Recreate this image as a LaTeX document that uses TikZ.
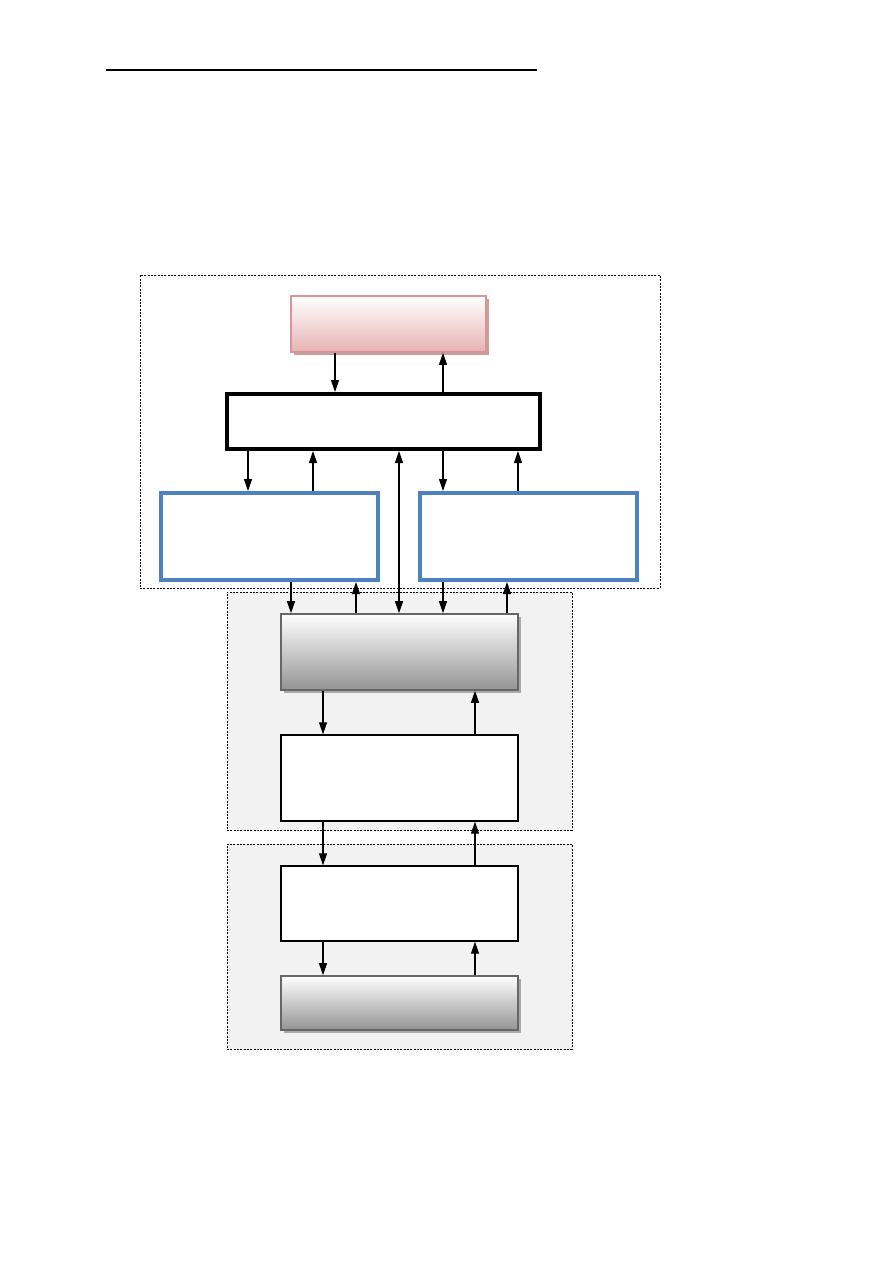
\documentclass[tikz,border=0pt]{standalone}
\usepackage{tikz}
\usetikzlibrary{arrows.meta,shadows}

\definecolor{boxblue}{HTML}{4F81BD}
\definecolor{pinkline}{HTML}{D99594}
\definecolor{pinkfill}{HTML}{E6B4B4}
\definecolor{zonegray}{HTML}{F2F2F2}

\begin{document}
\begin{tikzpicture}[x=0.75pt,y=-0.75pt,
  arr/.style={-{Triangle[length=9pt,width=6pt]},line width=0.8pt},
  zone/.style={draw,line width=0.6pt,dash pattern=on 1.5pt off 1pt,rectangle},
  pinkbox/.style={draw=pinkline,line width=1.2pt,shading=axis,top color=white,bottom color=pinkfill,
    drop shadow={shadow xshift=2pt,shadow yshift=-2pt,fill=pinkline!80!black,opacity=0.7}},
  graybox/.style={draw=black!60,line width=1.2pt,shading=axis,top color=white,middle color=black!12,bottom color=black!42,
    drop shadow={shadow xshift=2pt,shadow yshift=-2pt,fill=black!40,opacity=0.8}},
  plainbox/.style={draw,fill=white,line width=1pt},
  bluebox/.style={draw=boxblue,fill=white,line width=3pt}]
\useasboundingbox (0,0) rectangle (893,1263);

% rule at the top of the page
\draw[line width=0.9pt] (106,70) -- (537,70);

% dotted frames
\node[zone,fill=white,minimum width=390pt,minimum height=234.75pt] (upper) at (400,431.5) {};
\node[zone,fill=zonegray,minimum width=258.75pt,minimum height=178.5pt] (zoneA) at (399.5,711) {};
\node[zone,fill=zonegray,minimum width=258.75pt,minimum height=153.75pt] (zoneB) at (399.5,946.5) {};

% boxes
\node[pinkbox,minimum width=146.25pt,minimum height=42pt] (pink) at (388.5,324) {};
\node[draw,fill=white,line width=3pt,minimum width=234.75pt,minimum height=41.25pt] (ctrl) at (383.5,421.5) {};
\node[bluebox,minimum width=162.75pt,minimum height=65.25pt] (left) at (269.5,536.5) {};
\node[bluebox,minimum width=162.75pt,minimum height=65.25pt] (right) at (528.5,536.5) {};
\node[graybox,minimum width=177.75pt,minimum height=57pt] (midgray) at (399.5,652) {};
\node[plainbox,minimum width=177.75pt,minimum height=64.5pt] (boxA) at (399.5,778) {};
\node[plainbox,minimum width=177.75pt,minimum height=56.25pt] (boxB) at (399.5,903.5) {};
\node[graybox,minimum width=177.75pt,minimum height=40.5pt] (lowgray) at (399.5,1003) {};

% pink <-> control
\draw[arr] (pink.south -| 335,0) -- (ctrl.north -| 335,0);
\draw[arr] (ctrl.north -| 443,0) -- (pink.south -| 443,0);
% control <-> blue boxes
\draw[arr] (ctrl.south -| 248,0) -- (left.north -| 248,0);
\draw[arr] (left.north -| 313,0) -- (ctrl.south -| 313,0);
\draw[arr] (ctrl.south -| 443,0) -- (right.north -| 443,0);
\draw[arr] (right.north -| 518,0) -- (ctrl.south -| 518,0);
% control <-> middle gray, straight down
\draw[line width=0.8pt,{Triangle[length=9pt,width=6pt]}-{Triangle[length=9pt,width=6pt]}] (ctrl.south -| 399,0) -- (midgray.north -| 399,0);
% blue boxes <-> middle gray
\draw[arr] (left.south -| 291,0) -- (midgray.north -| 291,0);
\draw[arr] (midgray.north -| 356,0) -- (left.south -| 356,0);
\draw[arr] (right.south -| 443,0) -- (midgray.north -| 443,0);
\draw[arr] (midgray.north -| 507,0) -- (right.south -| 507,0);
% the column below
\draw[arr] (midgray.south -| 323,0) -- (boxA.north -| 323,0);
\draw[arr] (boxA.north -| 475,0) -- (midgray.south -| 475,0);
\draw[arr] (boxA.south -| 323,0) -- (boxB.north -| 323,0);
\draw[arr] (boxB.north -| 475,0) -- (boxA.south -| 475,0);
\draw[arr] (boxB.south -| 323,0) -- (lowgray.north -| 323,0);
\draw[arr] (lowgray.north -| 475,0) -- (boxB.south -| 475,0);
\end{tikzpicture}
\end{document}
